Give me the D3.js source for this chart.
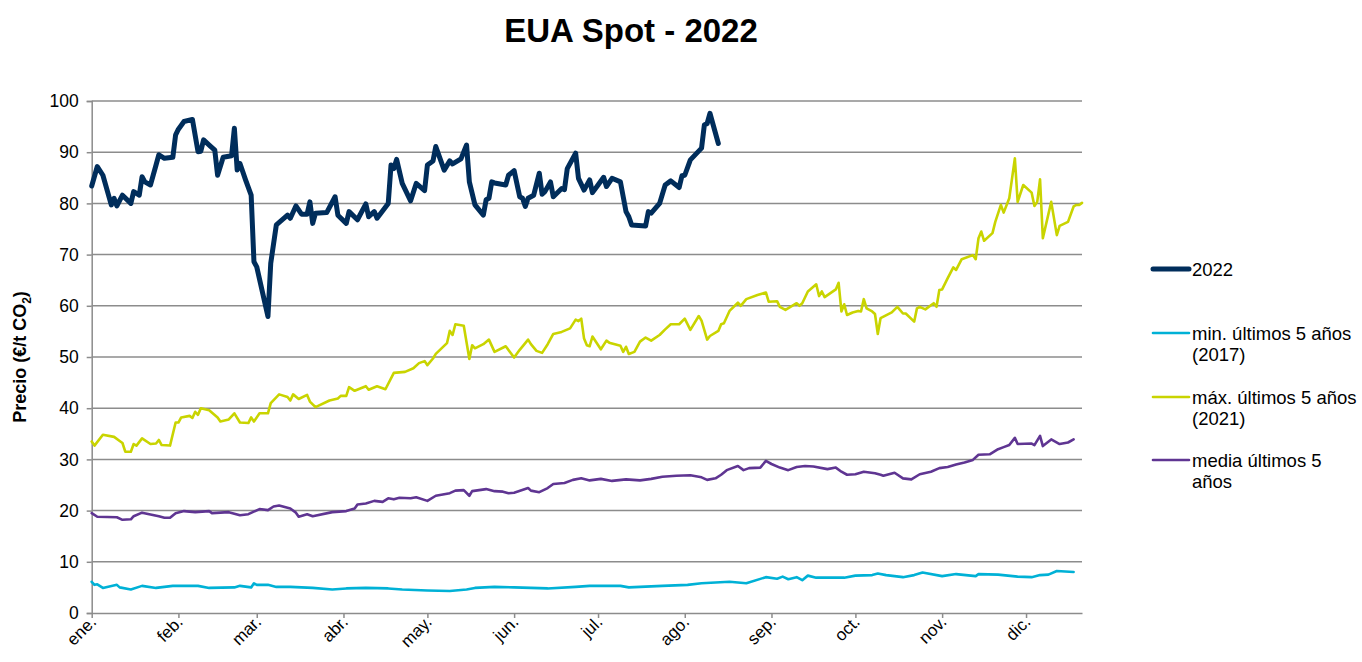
<!DOCTYPE html>
<html>
<head>
<meta charset="utf-8">
<script src="https://cdn.jsdelivr.net/npm/d3@7"></script>
<style>
  body { margin: 0; background: #fff; }
  svg { font-family: "Liberation Sans", Arial, sans-serif; }
</style>
</head>
<body>
<svg id="chart" width="1362" height="662"></svg>
<script>
// dias desde el 1 de enero de 2022 / precio EUR/t
var dias2022 = [0,2,4,7,8,9,11,14,15,17,18,19,21,23,24,26,29,30,31,33,36,38,39,40,42,44,45,47,50,51,52,53,55,57,58,59,63,64,66,70,71,73,75,77,78,79,80,84,87,88,91,92,95,98,99,101,102,106,107,108,109,111,114,116,119,120,122,123,126,128,129,132,134,135,137,140,141,142,143,144,148,149,151,153,154,155,156,158,160,161,162,164,165,168,169,170,173,174,176,178,179,181,183,184,186,189,191,192,193,198,199,200,203,205,207,210,211,212,214,218,219,220,221,224];
var eua2022 = [83.4,87.2,85.5,79.7,81,79.5,81.6,80,82.3,81.6,85.2,84.2,83.6,87.5,89.5,88.8,89,93.4,94.5,96,96.4,90.1,90.2,92.4,91.4,90.4,85.5,89,89.3,94.7,86.5,87.8,84.6,81.6,68.6,67.6,57.9,68.3,75.8,77.7,77.1,79.5,77.9,77.9,80.3,76.1,78.1,78.2,81.3,77.7,76.1,78.4,76.8,79.9,77.4,78.4,77.1,80,87.5,86.8,88.6,83.9,80.5,83.9,82.5,87.5,88.3,91.1,86.5,88.3,87.7,88.7,91.4,84.2,79.7,77.7,80.7,81,84.2,84,83.6,85.5,86.4,81.3,81,79.4,81,81.6,85.9,81.8,82.3,84.2,81.3,82.9,82.7,86.8,89.8,84.9,82.6,84.6,82.1,83.6,85.1,83.3,84.9,84.2,78.4,77.4,75.8,75.6,78.4,78.1,80,83.6,84.4,83.1,85.4,85.5,88.5,90.8,95.3,95.6,97.6,91.7];

var diasMin = [0,1,2,4,9,10,14,18,23,29,38,42,51,53,57,58,59,63,66,71,79,86,91,98,106,111,120,128,134,137,144,151,163,173,178,189,192,204,213,218,228,234,241,245,247,249,252,254,256,259,269,273,279,281,284,290,294,297,304,309,316,317,324,331,336,339,342,345,351];
var min2017 = [6.1,5.5,5.6,4.9,5.5,5,4.6,5.3,4.9,5.3,5.3,4.9,5,5.3,5,5.8,5.5,5.5,5.1,5.1,4.9,4.6,4.8,4.9,4.8,4.6,4.4,4.3,4.6,4.9,5.1,5,4.8,5.1,5.3,5.3,5,5.3,5.5,5.8,6.1,5.8,7,6.7,7.1,6.6,7,6.4,7.3,6.9,6.9,7.3,7.4,7.7,7.4,7,7.4,7.9,7.2,7.6,7.2,7.6,7.5,7.1,7,7.4,7.5,8.2,8];

var diasMax = [0,1,4,8,10,11,12,14,15,16,18,21,23,24,25,28,30,31,32,35,36,37,38,39,42,45,46,49,51,53,56,57,58,60,63,64,67,70,71,72,74,77,78,80,85,88,89,91,92,94,98,99,102,105,108,112,115,117,119,120,122,123,127,128,129,130,133,135,136,137,140,142,144,148,151,153,156,157,159,161,163,165,168,171,173,174,175,176,177,178,179,182,184,185,189,190,191,192,194,196,198,200,203,205,207,210,212,214,217,218,220,221,224,225,226,228,231,232,234,238,241,242,245,246,248,252,253,254,256,259,260,261,262,266,267,268,269,270,272,274,275,276,277,279,280,281,282,286,288,290,291,294,295,296,298,301,302,303,304,306,308,309,311,315,316,317,318,319,322,323,325,326,328,330,331,333,336,337,338,339,340,343,345,346,349,351,352,353,354];
var max2021 = [33.5,32.7,34.8,34.4,33.6,33.2,31.5,31.5,33,32.7,34.1,33,33.1,33.8,32.8,32.7,37.2,37.2,38.2,38.5,38.1,39.3,38.7,40,39.6,38.2,37.4,37.8,39,37.2,37.1,38.2,37.4,39,39,41,42.7,42.2,41.5,42.7,41.8,42.6,41.3,40.2,41.5,41.9,42.4,42.4,44.1,43.4,44.3,43.6,44.3,43.7,46.9,47.1,47.8,48.8,49.2,48.4,49.7,50.6,52.7,55.1,54.3,56.4,56.1,49.6,52.3,51.7,52.5,53.4,51,52.1,49.9,51.4,53.4,52.5,51.2,50.8,52.5,54.5,54.9,55.6,57.3,57,57.5,53.6,52.3,52.1,54,51.5,53.2,52.8,52.2,51,52,50.6,51,53,53.8,53.2,54.3,55.4,56.4,56.4,57.5,55.3,58,57.1,53.4,54.1,55.1,56.4,56.6,59,60.6,60,61.3,62.1,62.6,60.8,60.9,59.8,59.2,60.5,60,60.5,62.8,64.2,61.9,62.8,61.7,63.2,64.5,58.9,60.3,58.2,58.7,59,58.9,61.3,59.5,58.9,58.4,54.5,57.6,58.7,59.8,58.5,58.5,56.9,59.5,59.8,59.3,60.5,59.8,63.1,63.2,65.4,67.5,67,69.1,69.9,69.1,73.2,74.5,72.7,74.2,76.4,79.7,78.2,81,88.8,80.3,83.6,82.1,79.5,80.3,84.7,73.2,80.3,73.8,75.6,76.4,79.4,79.7,79.7,80.1];

var diasMedia = [0,2,9,11,14,15,18,24,26,28,30,33,37,42,43,49,53,56,60,63,65,67,71,73,74,77,79,86,91,94,95,98,101,104,106,108,110,114,116,120,123,128,130,133,135,136,141,144,147,149,151,156,157,160,163,165,169,172,175,178,182,186,191,196,200,204,209,214,218,220,223,225,227,231,233,235,239,241,243,246,249,252,255,258,263,266,268,270,273,276,280,282,283,287,290,293,296,300,303,306,309,312,315,317,321,324,326,328,330,331,336,337,339,340,343,346,349,351];
var media5 = [19.5,18.8,18.7,18.2,18.3,18.9,19.6,18.9,18.6,18.6,19.5,19.9,19.7,19.9,19.5,19.7,19.1,19.3,20.3,20.1,20.8,21,20.4,19.6,18.8,19.3,18.9,19.7,19.9,20.4,21.2,21.4,21.9,21.7,22.4,22.2,22.5,22.4,22.6,21.9,22.9,23.4,23.9,24,22.9,23.8,24.2,23.8,23.7,23.4,23.5,24.4,23.9,23.6,24.4,25.2,25.4,26,26.3,25.9,26.2,25.8,26.1,25.9,26.2,26.6,26.8,26.9,26.5,26,26.3,27,27.9,28.7,27.9,28.3,28.4,29.7,29.1,28.4,27.9,28.5,28.7,28.6,28.1,28.4,27.6,27,27.1,27.6,27.3,27,26.8,27.4,26.3,26.1,27.1,27.6,28.3,28.5,29,29.4,29.9,30.9,31,32,32.4,32.8,34.2,33,33.1,32.8,34.6,32.6,33.9,33,33.3,33.9];

var mesesLabels = ["ene.","feb.","mar.","abr.","may.","jun.","jul.","ago.","sep.","oct.","nov.","dic."];
var yTicks = [0,10,20,30,40,50,60,70,80,90,100];

var series = [
  {name: "2022", dias: dias2022, vals: eua2022, color: "#002d5b", width: 5},
  {name: "min. últimos 5 años|(2017)", dias: diasMin, vals: min2017, color: "#00b1d6", width: 2.6},
  {name: "máx. últimos 5 años|(2021)", dias: diasMax, vals: max2021, color: "#c9d400", width: 2.6},
  {name: "media últimos 5|años", dias: diasMedia, vals: media5, color: "#5f3592", width: 2.6}
];

var svg = d3.select("#chart");
var inicio = new Date(2022, 0, 1);
var toDate = d => d3.timeDay.offset(inicio, d);

var x = d3.scaleTime()
  .domain([inicio, new Date(2022, 11, 21)])
  .range([91.7, 1082]);

var y = d3.scaleLinear()
  .domain([0, 100])
  .range([613, 101]);

// rejilla
svg.append("g")
  .selectAll("line")
  .data(yTicks.filter(d => d > 0))
  .enter().append("line")
  .attr("x1", x.range()[0])
  .attr("x2", x.range()[1])
  .attr("y1", d => y(d))
  .attr("y2", d => y(d))
  .attr("stroke", "#8c8c8c")
  .attr("stroke-width", 1.5);

// eje y
var yAxis = svg.append("g")
  .attr("transform", `translate(${x.range()[0]},0)`)
  .call(d3.axisLeft(y).tickValues(yTicks).tickSize(5).tickPadding(8));
yAxis.select(".domain").attr("stroke", "#8c8c8c").attr("stroke-width", 1.5);
yAxis.selectAll(".tick line").attr("stroke", "#8c8c8c").attr("stroke-width", 1.5);
yAxis.selectAll("text").style("font-size", "17.5px").attr("fill", "#000");

// eje x
var meses = d3.range(12).map(m => new Date(2022, m, 1));
var xAxis = svg.append("g")
  .attr("transform", `translate(0,${y(0)})`)
  .call(d3.axisBottom(x).tickValues(meses).tickSize(5).tickSizeOuter(0)
    .tickFormat((d, i) => mesesLabels[i]));
xAxis.select(".domain").attr("stroke", "#8c8c8c").attr("stroke-width", 1.5);
xAxis.selectAll(".tick line").attr("stroke", "#8c8c8c").attr("stroke-width", 1.5);
xAxis.selectAll("text")
  .style("font-size", "17px")
  .attr("fill", "#000")
  .attr("text-anchor", "end")
  .attr("x", -3.5)
  .attr("y", 10.6)
  .attr("dy", 0)
  .attr("transform", "rotate(-45)");

// lineas
var line = d3.line()
  .x(d => x(toDate(d[0])))
  .y(d => y(d[1]));

series.slice().reverse().forEach(function(s) {
  svg.append("path")
    .datum(s.dias.map((d, i) => [d, s.vals[i]]))
    .attr("fill", "none")
    .attr("stroke", s.color)
    .attr("stroke-width", s.width)
    .attr("stroke-linejoin", "round")
    .attr("stroke-linecap", "round")
    .attr("d", line);
});

// titulo
svg.append("text")
  .attr("x", 631)
  .attr("y", 42)
  .attr("text-anchor", "middle")
  .style("font-size", "33px")
  .style("font-weight", "bold")
  .text("EUA Spot - 2022");

// titulo eje y
var yt = svg.append("text")
  .attr("transform", "translate(26,357) rotate(-90)")
  .attr("text-anchor", "middle")
  .style("font-size", "18px")
  .style("font-weight", "bold");
yt.append("tspan").text("Precio (€/t CO");
yt.append("tspan").attr("dy", 5).style("font-size", "12px").text("2");
yt.append("tspan").attr("dy", -5).text(")");

// leyenda
var legY = [269, 333, 397, 460];
var leg = svg.append("g");
series.forEach(function(s, i) {
  leg.append("line")
    .attr("x1", 1153).attr("x2", 1189)
    .attr("y1", legY[i]).attr("y2", legY[i])
    .attr("stroke", s.color)
    .attr("stroke-width", i == 0 ? 5 : 2.6)
    .attr("stroke-linecap", "round");
  s.name.split("|").forEach(function(t, j) {
    leg.append("text")
      .attr("x", 1192)
      .attr("y", legY[i] + 6.5 + j * 21)
      .style("font-size", "18.5px")
      .text(t);
  });
});
</script>
</body>
</html>
